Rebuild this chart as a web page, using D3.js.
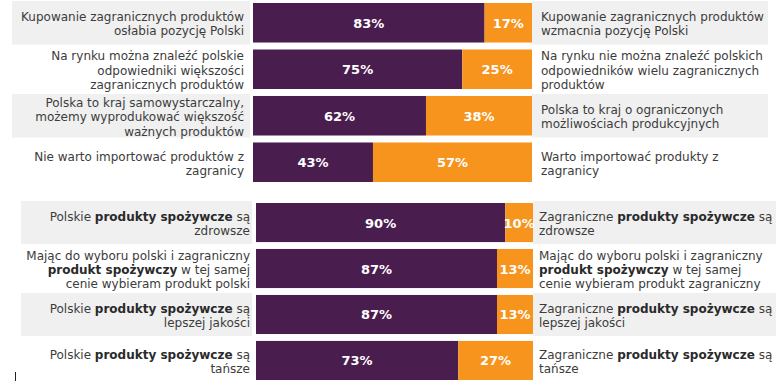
<!DOCTYPE html>
<html>
<head>
<meta charset="utf-8">
<script src="https://cdn.jsdelivr.net/npm/d3@7"></script>
<style>
  body { margin: 0; background: #fff; }
  text { font-family: "DejaVu Sans", Verdana, sans-serif; }
</style>
</head>
<body>
<script>
// pairs of opposite statements, share of respondents choosing the left one (%)
const generalLeft = [
    ["Kupowanie zagranicznych produktów", "osłabia pozycję Polski"],
    ["Na rynku można znaleźć polskie", "odpowiedniki większości", "zagranicznych produktów"],
    ["Polska to kraj samowystarczalny,", "możemy wyprodukować większość", "ważnych produktów"],
    ["Nie warto importować produktów z", "zagranicy"]
];
const generalRight = [
    ["Kupowanie zagranicznych produktów", "wzmacnia pozycję Polski"],
    ["Na rynku nie można znaleźć polskich", "odpowiedników wielu zagranicznych", "produktów"],
    ["Polska to kraj o ograniczonych", "możliwościach produkcyjnych"],
    ["Warto importować produkty z", "zagranicy"]
];
const generalValues = [83, 75, 62, 43];

const foodLeft = [
    ["Polskie **produkty spożywcze** są", "zdrowsze"],
    ["Mając do wyboru polski i zagraniczny", "**produkt spożywczy** w tej samej", "cenie wybieram produkt polski"],
    ["Polskie **produkty spożywcze** są", "lepszej jakości"],
    ["Polskie **produkty spożywcze** są", "tańsze"]
];
const foodRight = [
    ["Zagraniczne **produkty spożywcze** są", "zdrowsze"],
    ["Mając do wyboru polski i zagraniczny", "**produkt spożywczy** w tej samej", "cenie wybieram produkt zagraniczny"],
    ["Zagraniczne **produkty spożywcze** są", "lepszej jakości"],
    ["Zagraniczne **produkty spożywcze** są", "tańsze"]
];
const foodValues = [90, 87, 87, 73];

const width = 780, height = 382;
const purple = "#4a1d4f", orange = "#f7941e", grey = "#f0f0f0";

let svg = d3.select("body")
    .append("svg")
    .attr("width", width)
    .attr("height", height);

function drawBlock(left, right, values, opt) {
    let rows = values.map((v, i) => ({ i: i, v: v, left: left[i], right: right[i] }));

    let y = d3.scaleBand()
        .domain(rows.map(d => d.i))
        .range(opt.yRange)
        .paddingInner(0.15);

    let x = d3.scaleLinear()
        .domain([0, 100])
        .range(opt.xRange);

    let row = svg.append("g")
        .selectAll(".row")
        .data(rows)
        .enter()
        .append("g")
        .attr("class", "row");

    // grey stripes behind every other statement
    [opt.leftBg, opt.rightBg].forEach(bg => {
        row.filter(d => d.i % 2 == 0).append("rect")
            .attr("x", bg[0])
            .attr("width", bg[1] - bg[0])
            .attr("y", d => y(d.i) - 2)
            .attr("height", y.bandwidth() + 4)
            .attr("fill", grey);
    });

    row.append("rect")
        .attr("x", x(0))
        .attr("y", d => y(d.i))
        .attr("width", d => x(d.v) - x(0))
        .attr("height", y.bandwidth())
        .attr("fill", purple);

    row.append("rect")
        .attr("x", d => x(d.v))
        .attr("y", d => y(d.i))
        .attr("width", d => x(100) - x(d.v))
        .attr("height", y.bandwidth())
        .attr("fill", orange);

    row.append("text")
        .attr("x", d => (x(0) + x(d.v)) / 2)
        .attr("y", d => y(d.i) + y.bandwidth() / 2 + 5)
        .attr("text-anchor", "middle")
        .attr("fill", "#fff")
        .attr("font-weight", "bold")
        .attr("font-size", 13)
        .text(d => d.v + "%");

    row.append("text")
        .attr("x", d => (x(d.v) + x(100)) / 2)
        .attr("y", d => y(d.i) + y.bandwidth() / 2 + 5)
        .attr("text-anchor", "middle")
        .attr("fill", "#fff")
        .attr("font-weight", "bold")
        .attr("font-size", 13)
        .text(d => (100 - d.v) + "%");

    addLabel(row, "left", opt.leftX, "end", y);
    addLabel(row, "right", opt.rightX, "start", y);
}

function addLabel(row, side, xPos, anchor, y) {
    let lineH = 14.3;
    row.each(function (d) {
        let lines = d[side];
        let cy = y(d.i) + y.bandwidth() / 2;
        let t = d3.select(this).append("text")
            .attr("text-anchor", anchor)
            .attr("font-size", 12)
            .attr("fill", "#3c3c3c");
        lines.forEach((line, k) => {
            let base = cy - (lines.length - 1) * lineH / 2 + k * lineH + 5.5;
            let first = true;
            // text between ** is bold
            line.split("**").forEach((part, j) => {
                if (!part) return;
                let s = t.append("tspan").text(part);
                if (first) {
                    s.attr("x", xPos).attr("y", base);
                    first = false;
                }
                if (j % 2 == 1) s.attr("font-weight", "bold").attr("fill", "#2a2a2a");
            });
        });
    });
}

drawBlock(generalLeft, generalRight, generalValues, {
    yRange: [3, 182],
    xRange: [253, 532],
    leftBg: [12, 250],
    rightBg: [532, 768],
    leftX: 244,
    rightX: 541
});

drawBlock(foodLeft, foodRight, foodValues, {
    yRange: [203, 380],
    xRange: [256, 533],
    leftBg: [21, 252],
    rightBg: [533, 776],
    leftX: 250,
    rightX: 539
});

// small cursor mark left in the screenshot
svg.append("line")
    .attr("x1", 15.5).attr("x2", 15.5)
    .attr("y1", 372).attr("y2", 381)
    .attr("stroke", "#222")
    .attr("stroke-width", 1);
</script>
</body>
</html>
